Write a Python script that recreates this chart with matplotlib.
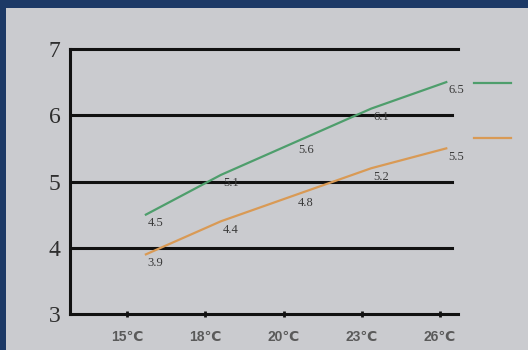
import matplotlib.pyplot as plt
import numpy as np
from matplotlib.patches import Rectangle

# data
temps = ['15℃', '18℃', '20℃', '23℃', '26℃']
green_vals = [4.5, 5.1, 5.6, 6.1, 6.5]
orange_vals = [3.9, 4.4, 4.8, 5.2, 5.5]
y_ticks = [3, 4, 5, 6, 7]

GREEN = '#4e9e6c'
ORANGE = '#d99a55'

fig = plt.figure(figsize=(5.28, 3.5), dpi=100)
fig.patch.set_facecolor('#1c3966')
# grey board
fig.patches.append(Rectangle((6 / 528, 0), 1, 1 - 8 / 350, transform=fig.transFigure,
                             facecolor='#cacbcf', edgecolor='none', zorder=-5))

ax = fig.add_axes([70 / 528, 1 - 314 / 350, 388 / 528, 265 / 350])
ax.set_facecolor('none')

tick_pos = np.arange(len(temps))
# points sit slightly right of the category ticks
pt_pos = tick_pos * 0.96 + 0.24

ax.plot(pt_pos, green_vals, color=GREEN, lw=1.6, label=' ', zorder=3)
ax.plot(pt_pos, orange_vals, color=ORANGE, lw=1.6, label=' ', zorder=3)

for x, v in zip(pt_pos, green_vals):
    ax.annotate(f'{v}', (x, v), xytext=(7, -6), textcoords='offset points',
                ha='center', va='center', fontsize=9, family='Liberation Serif',
                color='#3a3a3a', zorder=4)
for x, v in zip(pt_pos, orange_vals):
    ax.annotate(f'{v}', (x, v), xytext=(7, -6), textcoords='offset points',
                ha='center', va='center', fontsize=9, family='Liberation Serif',
                color='#3a3a3a', zorder=4)

for y in y_ticks[1:4]:
    ax.axhline(y, xmin=0, xmax=0.985, color='#111111', lw=2.2, zorder=2)

ax.set_ylim(3, 7)
ax.set_xlim(-0.73, 4.23)
ax.set_yticks(y_ticks)
ax.set_yticklabels([str(y) for y in y_ticks], family='Liberation Serif',
                   fontsize=17, color='#2e2e2e')
ax.set_xticks(tick_pos)
ax.set_xticklabels(temps, family=['Liberation Sans', 'DejaVu Sans'],
                   fontsize=10, fontweight='bold', color='#5a5a5a')
ax.tick_params(axis='y', length=0, pad=7)
ax.tick_params(axis='x', direction='inout', length=5, width=2, color='#111111', pad=9)

for side in ['left', 'bottom', 'top']:
    ax.spines[side].set_color('#111111')
    ax.spines[side].set_linewidth(2.2)
ax.spines['right'].set_visible(False)

fig.legend(loc='upper left', bbox_to_anchor=(461 / 528, 1 - 64 / 350),
           frameon=False, handlelength=2.7, fontsize=10, labelspacing=3.0)

plt.savefig('out.png', dpi=100)
